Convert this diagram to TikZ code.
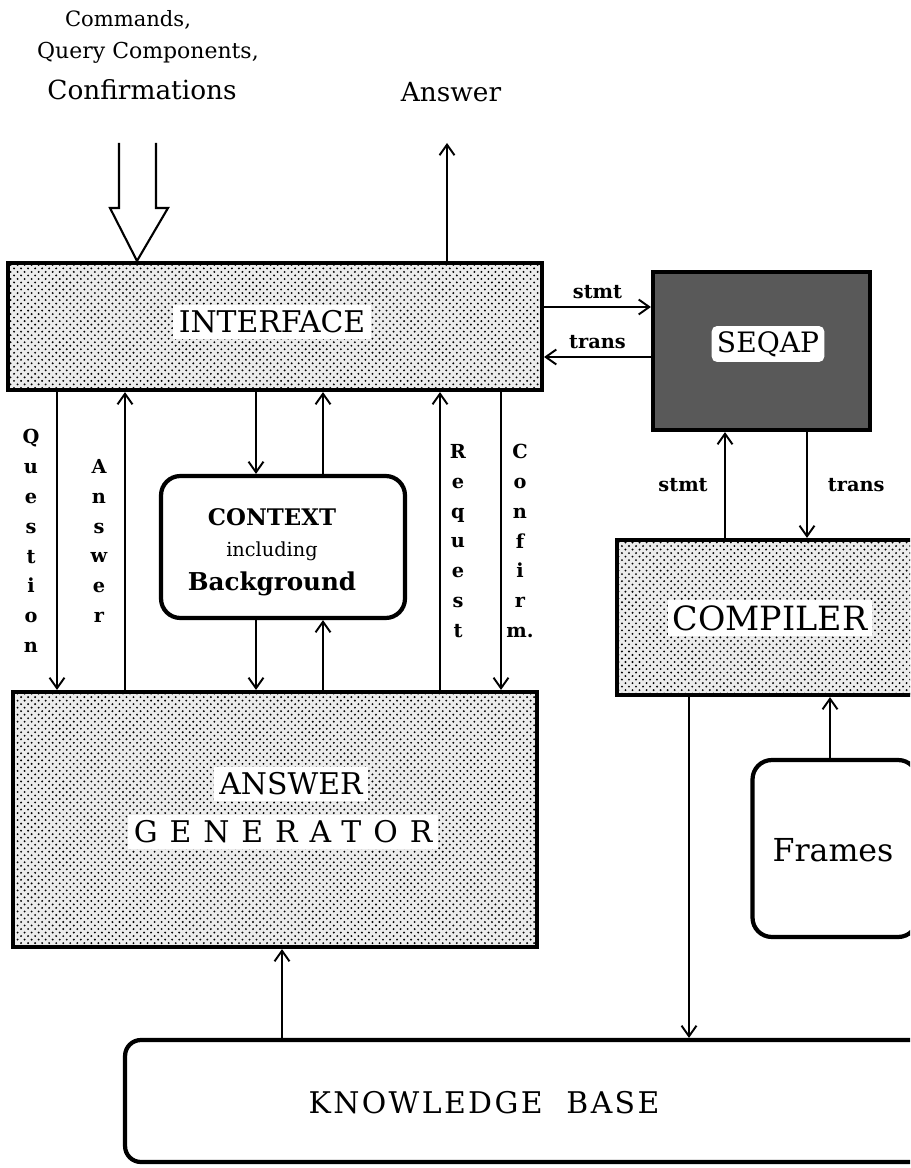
\documentclass[tikz,border=0pt]{standalone}
\usepackage{fontspec}
\setmainfont{DejaVu Serif}
\usetikzlibrary{arrows.meta,patterns}

\pgfdeclarepatternformonly{screendots}{\pgfqpoint{-1pt}{-1pt}}{\pgfqpoint{3pt}{3pt}}{\pgfqpoint{4pt}{4pt}}{%
  \pgfpathcircle{\pgfqpoint{0pt}{0pt}}{.6pt}
  \pgfpathcircle{\pgfqpoint{2pt}{2pt}}{.6pt}
  \pgfusepath{fill}}

\tikzset{
  dotbox/.style={draw, line width=2.4pt, fill=gray!15, postaction={pattern=screendots}, inner sep=0pt},
  darkbox/.style={draw, line width=2.4pt, fill=black!65, inner sep=0pt},
  roundbox/.style={draw, line width=2.4pt, rounded corners=9pt, fill=white, inner sep=0pt},
  tag/.style={fill=white, inner sep=3pt},
  vword/.style={align=center, inner sep=0pt, font=\fontsize{11}{17}\selectfont\bfseries},
  flow/.style={->, line width=1.1pt},
  small/.style={font=\fontsize{11}{12}\selectfont\bfseries},
}

\begin{document}
\begin{tikzpicture}[x=0.02cm, y=-0.02cm, >={Straight Barb[length=6pt,width=8.5pt]}]
\useasboundingbox (0,0) rectangle (910,1168);
\clip (0,0) rectangle (910,1168);

% boxes
\node[dotbox, minimum width=10.68cm, minimum height=2.54cm] (intf) at (275,326.5) {};
\node[roundbox, minimum width=4.88cm, minimum height=2.84cm, rounded corners=11pt] (ctx) at (283,547) {};
\node[dotbox, minimum width=10.48cm, minimum height=5.1cm] (ag) at (275,819.5) {};
\node[roundbox, minimum width=16.2cm, minimum height=2.44cm] (kb) at (530,1101) {};
\node[darkbox, minimum width=4.34cm, minimum height=3.16cm] (seqap) at (761.5,351) {};
\node[dotbox, minimum width=6.36cm, minimum height=3.1cm] (comp) at (776,617.5) {};
\node[roundbox, minimum width=3.3cm, minimum height=3.54cm, rounded corners=11pt] (frames) at (835,848.5) {};

% texts
\node[tag, font=\fontsize{17}{20}\selectfont] (intft) at (272,322) {INTERFACE};
\node[tag, font=\fontsize{13}{15}\selectfont\bfseries] (ctxa) at (272,517) {CONTEXT};
\node[font=\fontsize{11}{13}\selectfont] (ctxb) at (272,551) {including};
\node[font=\fontsize{14}{16}\selectfont\bfseries] (ctxc) at (272,584) {Background};
\node[tag, font=\fontsize{17}{20}\selectfont] (aga) at (291,784) {ANSWER};
\node[tag, font=\fontsize{17}{20}\selectfont\addfontfeatures{LetterSpace=40}] (agb) at (283,832) {GENERATOR};
\node[font=\fontsize{17}{20}\selectfont\addfontfeatures{LetterSpace=8}] (kbt) at (484,1103) {KNOWLEDGE~~BASE};
\node[tag, rounded corners=3pt, font=\fontsize{16}{19}\selectfont] (seqapt) at (768,344) {SEQAP};
\node[tag, font=\fontsize{19}{22}\selectfont] (compt) at (770,618) {COMPILER};
\node[font=\fontsize{18}{21}\selectfont] (framest) at (833,850) {Frames};

% top inputs and output
\node[font=\fontsize{12}{14}\selectfont] (cmds) at (128,20) {Commands,};
\node[font=\fontsize{12.5}{15}\selectfont] (query) at (148,53) {Query Components,};
\node[font=\fontsize{15}{18}\selectfont] (confs) at (142,90) {Confirmations};
\node[font=\fontsize{15}{18}\selectfont] (anst) at (451,92) {Answer};

% columns
\coordinate (qcol) at (57,0);
\coordinate (acol) at (125,0);
\coordinate (ctxdn) at (256,0);
\coordinate (ctxup) at (323,0);
\coordinate (rcol) at (440,0);
\coordinate (ccol) at (501,0);
\coordinate (ansx) at (447,0);
\coordinate (kbup) at (282,0);
\coordinate (kbdn) at (689,0);
\coordinate (frup) at (830,0);
\coordinate (supx) at (725,0);
\coordinate (sdnx) at (807,0);
\coordinate (stmtrow) at (0,307);
\coordinate (transrow) at (0,357);
\coordinate (ansout) at (447,143);
\coordinate (tip) at (intf.north -| 137,0);

% wide input arrow
\draw[line width=1.2pt, line join=miter]
  (119,143) -- (119,208) -- (110,208) -- (tip) -- (168,208) -- (156,208) -- (156,143);

\draw[flow] (intf.north -| ansx) -- (ansout);

% interface <-> answer generator
\draw[flow] (intf.south -| qcol) -- (ag.north -| qcol)
  node[vword, midway, xshift=-0.52cm] (qlab) {Q\\u\\e\\s\\t\\i\\o\\n};
\draw[flow] (ag.north -| acol) -- (intf.south -| acol)
  node[vword, midway, xshift=-0.52cm] (alab) {A\\n\\s\\w\\e\\r};
\draw[flow] (ag.north -| rcol) -- (intf.south -| rcol)
  node[vword, midway, xshift=0.36cm] (rlab) {R\\e\\q\\u\\e\\s\\t};
\draw[flow] (intf.south -| ccol) -- (ag.north -| ccol)
  node[vword, midway, xshift=0.38cm, font=\fontsize{11}{17}\selectfont\bfseries] (clab) {C\\o\\n\\f\\i\\r\\m.};

% context
\draw[flow] (intf.south -| ctxdn) -- (ctx.north -| ctxdn);
\draw[flow] (ctx.north -| ctxup) -- (intf.south -| ctxup);
\draw[flow] (ctx.south -| ctxdn) -- (ag.north -| ctxdn);
\draw[flow] (ag.north -| ctxup) -- (ctx.south -| ctxup);

% seqap
\draw[flow] (intf.east |- stmtrow) -- (seqap.west |- stmtrow)
  node[small, midway, above=1pt] (st1) {stmt};
\draw[flow] (seqap.west |- transrow) -- (intf.east |- transrow)
  node[small, midway, above=1pt] (tr1) {trans};
\draw[flow] (comp.north -| supx) -- (seqap.south -| supx)
  node[small, midway, left=6pt] (st2) {stmt};
\draw[flow] (seqap.south -| sdnx) -- (comp.north -| sdnx)
  node[small, midway, right=8pt] (tr2) {trans};

% knowledge base, frames
\draw[flow] (kb.north -| kbup) -- (ag.south -| kbup);
\draw[flow] (comp.south -| kbdn) -- (kb.north -| kbdn);
\draw[flow] (frames.north -| frup) -- (comp.south -| frup);
\end{tikzpicture}
\end{document}
